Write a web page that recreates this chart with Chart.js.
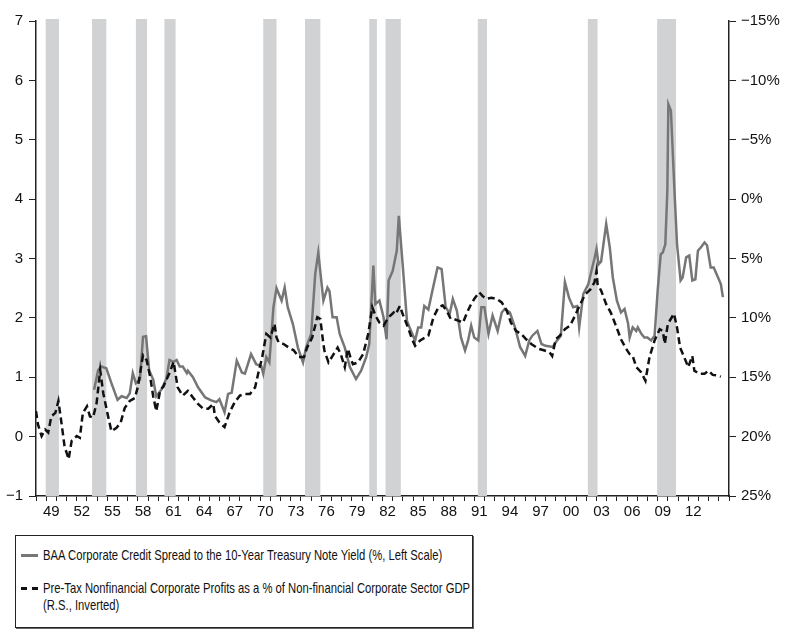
<!DOCTYPE html>
<html lang="en">
<head>
    <meta charset="UTF-8">
    <title>Credit Spread vs Corporate Profits</title>
    <script src="https://cdn.jsdelivr.net/npm/chart.js"></script>
    <style>
        body { margin: 0; background: #fff; }
        #wrap { position: relative; width: 800px; height: 639px; }
        #legend {
            position: absolute; left: 15px; top: 535px; width: 456px; height: 91px;
            border: 1px solid #222; box-shadow: 1px 1px 0 #666;
            font-family: "Liberation Sans", Arial, sans-serif; font-size: 15px; color: #111;
        }
        .item {
            position: absolute; left: 27px; line-height: 17px; white-space: nowrap;
            transform: scaleX(0.75); transform-origin: left top;
        }
        .swatch { position: absolute; left: 5px; width: 17px; height: 0; }
    </style>
</head>
<body>
<div id="wrap">
    <canvas id="myChart" width="800" height="530"></canvas>
    <div id="legend">
        <div class="swatch" style="top:18px;border-top:3px solid #777;"></div>
        <div class="item" style="top:10px;">BAA Corporate Credit Spread to the 10-Year Treasury Note Yield (%, Left Scale)</div>
        <div class="swatch" style="top:51px;border-top:3px dashed #111;"></div>
        <div class="item" style="top:43px;">Pre-Tax Nonfinancial Corporate Profits as a % of Non-financial Corporate Sector GDP<br>(R.S., Inverted)</div>
    </div>
</div>

<script>
    // BAA spread (%, left scale)
    const spreadYears = [1953.7, 1954.1, 1954.4, 1954.9, 1955.4, 1956.0, 1956.4, 1956.9, 1957.2, 1957.5, 1957.8, 1958.2, 1958.5, 1958.8, 1959.1, 1959.5, 1959.8, 1960.3, 1960.8, 1961.1, 1961.5, 1961.8, 1962.1, 1962.4, 1962.8, 1962.9, 1963.4, 1963.9, 1964.6, 1965.2, 1965.7, 1966.0, 1966.5, 1966.85, 1967.2, 1967.7, 1968.2, 1968.5, 1969.1, 1969.6, 1970.1, 1970.3, 1970.6, 1970.9, 1971.3, 1971.6, 1972.1, 1972.4, 1972.7, 1973.2, 1973.7, 1974.2, 1974.5, 1975.0, 1975.4, 1975.7, 1976.2, 1976.6, 1976.8, 1977.1, 1977.5, 1977.8, 1978.3, 1978.8, 1979.4, 1979.9, 1980.4, 1980.7, 1981.1, 1981.3, 1981.7, 1982.1, 1982.4, 1982.6, 1983.0, 1983.4, 1983.6, 1984.0, 1984.4, 1984.8, 1985.2, 1985.5, 1985.8, 1986.1, 1986.5, 1986.9, 1987.4, 1987.8, 1988.2, 1988.6, 1988.9, 1989.3, 1989.7, 1990.1, 1990.4, 1990.7, 1991.0, 1991.4, 1991.7, 1992.0, 1992.4, 1992.8, 1993.3, 1993.7, 1994.0, 1994.5, 1995.0, 1995.5, 1996.0, 1996.4, 1996.7, 1997.2, 1997.6, 1998.0, 1998.7, 1999.0, 1999.5, 1999.9, 2000.3, 2000.7, 2001.1, 2001.3, 2001.7, 2002.2, 2002.5, 2002.8, 2003.0, 2003.2, 2003.45, 2003.95, 2004.3, 2004.6, 2005.0, 2005.4, 2005.75, 2006.1, 2006.25, 2006.55, 2006.9, 2007.05, 2007.4, 2007.7, 2008.0, 2008.35, 2008.7, 2009.0, 2009.3, 2009.5, 2009.75, 2009.95, 2010.05, 2010.3, 2010.65, 2010.9, 2011.25, 2011.45, 2011.8, 2012.1, 2012.4, 2012.7, 2012.95, 2013.25, 2013.6, 2013.85, 2014.2, 2014.5, 2014.85, 2015.2, 2015.4];
    const spreadValues = [0.79, 1.12, 1.18, 1.15, 0.9, 0.62, 0.68, 0.65, 0.73, 1.07, 0.9, 0.96, 1.68, 1.69, 1.12, 0.96, 0.68, 0.79, 0.98, 1.29, 1.26, 1.29, 1.18, 1.18, 1.07, 1.11, 1.0, 0.83, 0.66, 0.61, 0.58, 0.63, 0.41, 0.72, 0.74, 1.28, 1.08, 1.06, 1.39, 1.22, 1.19, 1.06, 1.34, 1.25, 2.18, 2.5, 2.29, 2.51, 2.18, 1.9, 1.5, 1.25, 1.5, 1.73, 2.74, 3.1, 2.29, 2.51, 2.45, 2.01, 2.01, 1.73, 1.5, 1.17, 0.97, 1.11, 1.34, 1.56, 2.88, 2.23, 2.29, 2.01, 1.64, 2.63, 2.79, 3.13, 3.72, 2.85, 1.95, 1.78, 1.62, 1.84, 1.84, 2.2, 2.14, 2.46, 2.85, 2.82, 2.18, 2.07, 2.32, 2.12, 1.67, 1.45, 1.62, 1.87, 1.67, 1.62, 2.18, 2.18, 1.73, 2.04, 1.78, 2.09, 2.15, 2.09, 1.84, 1.51, 1.36, 1.62, 1.7, 1.78, 1.56, 1.53, 1.51, 1.59, 1.7, 2.6, 2.34, 2.18, 2.2, 1.84, 2.4, 2.57, 2.79, 3.0, 3.16, 2.9, 2.95, 3.58, 3.19, 2.68, 2.29, 2.09, 2.15, 1.9, 1.67, 1.84, 1.78, 1.84, 1.73, 1.67, 1.67, 1.62, 1.7, 2.46, 3.07, 3.1, 3.24, 4.14, 5.6, 5.49, 4.14, 3.24, 2.63, 2.68, 3.02, 3.05, 2.63, 2.65, 3.13, 3.19, 3.27, 3.22, 2.85, 2.85, 2.71, 2.57, 2.35];

    // profits as % of GDP (right scale, inverted)
    const profitYears = [1948.0, 1948.2, 1948.55, 1948.9, 1949.2, 1949.5, 1949.9, 1950.2, 1950.5, 1950.8, 1951.2, 1951.5, 1952.0, 1952.3, 1952.6, 1953.0, 1953.3, 1953.6, 1953.95, 1954.3, 1954.6, 1955.0, 1955.4, 1955.9, 1956.3, 1956.7, 1957.2, 1957.7, 1958.0, 1958.5, 1958.85, 1959.2, 1959.5, 1959.8, 1960.2, 1960.5, 1960.8, 1961.1, 1961.5, 1961.9, 1962.4, 1962.9, 1963.4, 1963.9, 1964.4, 1964.9, 1965.4, 1965.55, 1966.0, 1966.5, 1967.0, 1967.5, 1968.0, 1968.5, 1969.0, 1969.5, 1969.8, 1970.2, 1970.6, 1971.0, 1971.4, 1971.6, 1971.8, 1972.3, 1972.8, 1973.3, 1973.8, 1974.3, 1974.6, 1975.1, 1975.6, 1975.9, 1976.2, 1976.3, 1976.7, 1977.1, 1977.6, 1977.9, 1978.3, 1978.6, 1978.95, 1979.1, 1979.6, 1980.1, 1980.6, 1981.0, 1981.3, 1981.7, 1982.1, 1982.6, 1983.1, 1983.3, 1983.7, 1984.1, 1984.5, 1984.9, 1985.2, 1985.7, 1986.2, 1986.5, 1987.0, 1987.5, 1987.9, 1988.3, 1988.7, 1989.0, 1989.5, 1989.9, 1990.3, 1990.6, 1991.0, 1991.5, 1991.8, 1992.2, 1992.7, 1993.2, 1993.7, 1994.2, 1994.6, 1995.1, 1995.6, 1996.1, 1996.6, 1997.3, 1997.9, 1998.4, 1998.65, 1999.0, 1999.4, 1999.9, 2000.4, 2000.9, 2001.4, 2001.9, 2002.4, 2002.8, 2003.0, 2003.1, 2003.45, 2003.95, 2004.4, 2004.9, 2005.4, 2005.9, 2006.25, 2006.55, 2006.9, 2007.4, 2007.8, 2008.2, 2008.7, 2009.2, 2009.5, 2009.7, 2010.0, 2010.6, 2010.9, 2011.2, 2011.6, 2012.0, 2012.4, 2012.6, 2013.1, 2013.6, 2014.0, 2014.4, 2014.9, 2015.2];
    const profitValues = [17.85, 19.0, 19.95, 19.4, 19.65, 18.3, 18.0, 17.0, 18.85, 20.8, 21.9, 20.35, 19.95, 20.1, 18.0, 17.45, 18.3, 18.4, 17.15, 14.4, 16.35, 18.0, 19.55, 19.25, 18.85, 17.6, 17.0, 16.75, 15.8, 13.15, 13.55, 14.95, 16.6, 17.85, 16.05, 15.8, 15.2, 14.65, 13.7, 15.85, 16.55, 16.15, 16.7, 17.25, 17.65, 17.65, 17.25, 18.25, 18.8, 19.2, 17.95, 17.1, 16.55, 16.4, 16.4, 15.85, 14.7, 13.3, 11.35, 11.65, 10.5, 11.65, 12.05, 12.2, 12.5, 12.75, 13.3, 13.3, 12.5, 11.65, 9.95, 10.1, 12.2, 12.75, 13.75, 13.2, 12.5, 13.05, 14.15, 12.6, 13.6, 13.9, 13.75, 13.05, 11.35, 9.1, 9.8, 10.4, 10.65, 9.95, 9.55, 9.7, 9.0, 9.95, 10.8, 11.8, 12.35, 11.9, 11.65, 11.5, 9.95, 9.1, 8.95, 9.4, 10.1, 10.1, 10.25, 10.4, 9.55, 9.0, 8.4, 7.85, 8.15, 8.4, 8.3, 8.4, 8.7, 9.4, 10.4, 11.1, 11.35, 11.8, 12.2, 12.6, 12.75, 12.9, 13.2, 11.8, 11.5, 10.95, 10.65, 9.8, 8.85, 8.0, 7.6, 7.0, 6.05, 7.15, 7.7, 8.85, 9.55, 10.65, 11.8, 12.6, 13.05, 13.2, 14.15, 14.6, 15.3, 13.3, 11.9, 10.95, 11.1, 12.2, 10.5, 9.65, 10.8, 12.5, 13.3, 14.15, 13.2, 14.45, 14.7, 14.7, 14.45, 14.8, 14.85, 14.95];

    // shaded recessions
    const recessionStart = [1948.95, 1953.5, 1957.8, 1960.6, 1970.3, 1974.4, 1980.7, 1982.3, 1991.35, 2002.15, 2008.95];
    const recessionEnd = [1950.25, 1954.9, 1958.9, 1961.7, 1971.6, 1975.9, 1981.45, 1983.8, 1992.25, 2003.1, 2010.8];

    const leftTicks = [-1, 0, 1, 2, 3, 4, 5, 6, 7];
    const rightTicks = [-15, -10, -5, 0, 5, 10, 15, 20, 25];

    const tickFont = { family: 'Liberation Sans', size: 15 };
    const minus = v => (v < 0 ? '\u2212' + Math.abs(v) : String(v));

    const recessionBands = {
        id: 'recessionBands',
        beforeDatasetsDraw(chart) {
            const { ctx, chartArea, scales } = chart;
            ctx.save();
            ctx.fillStyle = '#d1d2d4';
            for (let i = 0; i < recessionStart.length; i++) {
                const x1 = scales.x.getPixelForValue(recessionStart[i]);
                const x2 = scales.x.getPixelForValue(recessionEnd[i]);
                ctx.fillRect(x1, chartArea.top - 2, x2 - x1, chartArea.bottom - chartArea.top + 2);
            }
            ctx.restore();
        }
    };

    const ctx = document.getElementById('myChart').getContext('2d');
    const myChart = new Chart(ctx, {
        type: 'line',
        data: {
            datasets: [{
                label: 'Pre-Tax Nonfinancial Corporate Profits as a % of Non-financial Corporate Sector GDP (R.S., Inverted)',
                data: profitYears.map((x, i) => ({ x: x, y: profitValues[i] })),
                yAxisID: 'y1',
                borderColor: '#111',
                borderWidth: 2.5,
                borderDash: [7, 4],
                pointRadius: 0,
                tension: 0
            }, {
                label: 'BAA Corporate Credit Spread to the 10-Year Treasury Note Yield (%, Left Scale)',
                data: spreadYears.map((x, i) => ({ x: x, y: spreadValues[i] })),
                yAxisID: 'y',
                borderColor: '#767676',
                borderWidth: 2.5,
                pointRadius: 0,
                tension: 0
            }]
        },
        options: {
            responsive: false,
            animation: false,
            layout: { padding: { top: 21, left: 0, right: 0, bottom: 0 } },
            plugins: { legend: { display: false }, tooltip: { enabled: false } },
            scales: {
                x: {
                    type: 'linear',
                    min: 1948,
                    max: 2016,
                    afterBuildTicks: scale => {
                        const t = [];
                        for (let v = 1948; v <= 2016; v++) t.push({ value: v });
                        scale.ticks = t;
                    },
                    afterFit: scale => { scale.height = 34; },
                    ticks: {
                        autoSkip: false,
                        maxRotation: 0,
                        labelOffset: 5.1,
                        padding: 2,
                        color: '#111',
                        font: tickFont,
                        callback: v => ((v - 1949) % 3 === 0 && v < 2015 ? String(v % 100).padStart(2, '0') : '')
                    },
                    grid: { drawOnChartArea: false, drawTicks: true, tickLength: 5, color: '#222' },
                    border: { color: '#222', width: 1.5 }
                },
                y: {
                    position: 'left',
                    min: -1,
                    max: 7,
                    afterBuildTicks: scale => { scale.ticks = leftTicks.map(v => ({ value: v })); },
                    afterFit: scale => { scale.width = 36; },
                    ticks: { color: '#111', font: tickFont, padding: 6, callback: v => minus(v) },
                    grid: { drawOnChartArea: false, drawTicks: true, tickLength: 7, color: '#222' },
                    border: { color: '#222', width: 1.5 }
                },
                y1: {
                    position: 'right',
                    reverse: true,
                    min: -15,
                    max: 25,
                    afterBuildTicks: scale => { scale.ticks = rightTicks.map(v => ({ value: v })); },
                    afterFit: scale => { scale.width = 71; },
                    ticks: { color: '#111', font: tickFont, padding: 5, callback: v => minus(v) + '%' },
                    grid: { drawOnChartArea: false, drawTicks: true, tickLength: 7, color: '#222' },
                    border: { color: '#222', width: 1.5 }
                }
            }
        },
        plugins: [recessionBands]
    });
</script>
</body>
</html>
